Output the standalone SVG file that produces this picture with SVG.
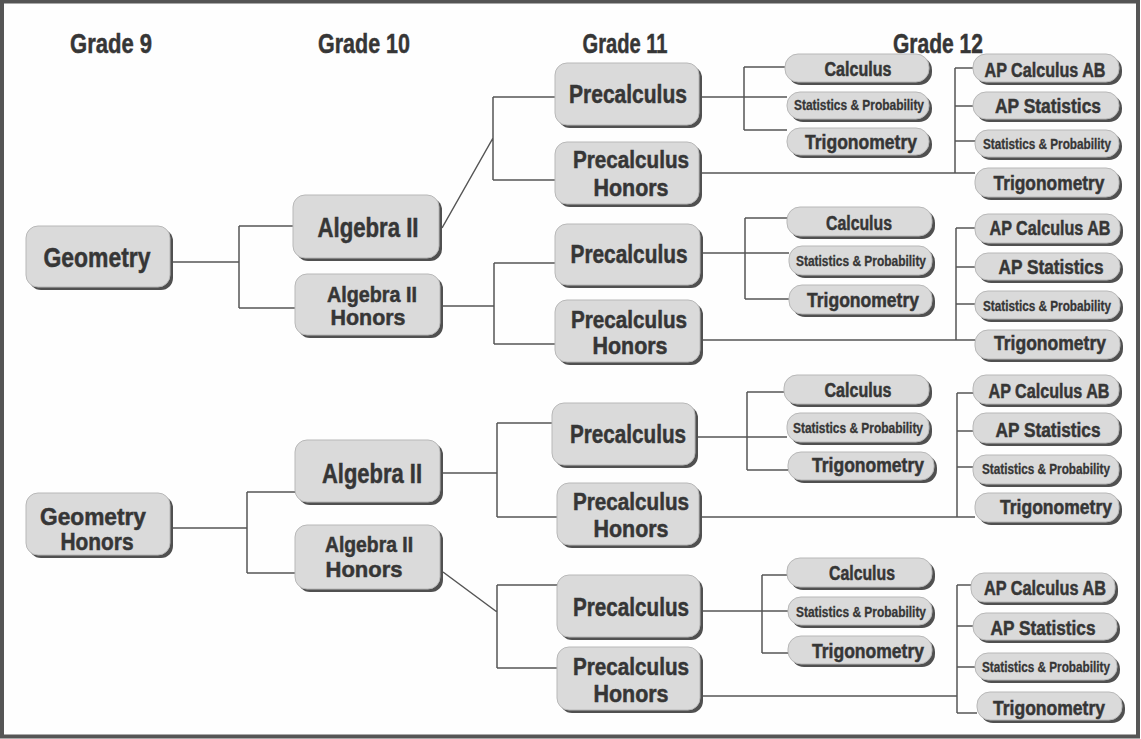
<svg xmlns="http://www.w3.org/2000/svg" width="1141" height="739" viewBox="0 0 1141 739">
<style>
.sh{fill:#505050}
.bx{fill:#dadada;stroke:#b8b8b8;stroke-width:1}
text{font-family:"Liberation Sans",Arial,sans-serif;font-weight:bold;fill:#363636;stroke:#363636;stroke-width:0.5;text-anchor:middle}
.h{font-size:28px}
.L{font-size:27px}
.M{font-size:26px}
.T{font-size:23px}
.A{font-size:22px}
.S{font-size:20px}
.X{font-size:14.5px;stroke-width:0.3}
.c{stroke:#555;stroke-width:1.5;fill:none}
</style>
<rect x="2" y="1.5" width="1136" height="735" fill="#fefefe" stroke="#555" stroke-width="4"/>
<g id="headers">
<text class="h" x="111" y="53" textLength="82" lengthAdjust="spacingAndGlyphs">Grade 9</text>
<text class="h" x="364" y="53" textLength="92" lengthAdjust="spacingAndGlyphs">Grade 10</text>
<text class="h" x="625" y="53" textLength="85" lengthAdjust="spacingAndGlyphs">Grade 11</text>
<text class="h" x="938" y="53" textLength="90" lengthAdjust="spacingAndGlyphs">Grade 12</text>
</g>
<g id="connectors" class="c">
<path d="M173,262 H239 M239,226 V308 M239,226 H293 M239,308 H295"/>
<path d="M442,228 L493,138 M493,97 V180 M493,97 H555 M493,180 H555"/>
<path d="M702,97 H787 M744,67 V130 M744,67 H785 M744,130 H787"/>
<path d="M702,173 H975 M955,68 V173 M955,68 H973 M955,106 H973 M955,141 H975"/>
<path d="M442,306 H494 M494,263 V344 M494,263 H555 M494,344 H555"/>
<path d="M703,253 H789 M745,218 V299 M745,218 H787 M745,299 H789"/>
<path d="M703,340 H975 M956,228 V340 M956,228 H975 M956,267 H975 M956,304 H975"/>
<path d="M173,528 H247 M247,492 V573 M247,492 H295 M247,573 H295"/>
<path d="M443,473 H497 M497,423 V517 M497,423 H552 M497,517 H557"/>
<path d="M698,437 H787 M747,392 V470 M747,392 H784 M747,470 H788"/>
<path d="M702,517 H975 M957,393 V517 M957,393 H973 M957,431 H973 M957,467 H973"/>
<path d="M443,572 L497,612 M497,585 V668 M497,585 H557 M497,668 H557"/>
<path d="M703,611 H788 M762,575 V653 M762,575 H787 M762,653 H788"/>
<path d="M703,696 H957 M957,585 V713 M957,585 H971 M957,626 H973 M957,667 H975 M957,713 H977"/>
</g>

<g id="geometry"><rect class="sh" x="29" y="229" width="144" height="61" rx="12"/><rect class="bx" x="26" y="226" width="144" height="61" rx="12"/><text class="L" x="97" y="267" textLength="107" lengthAdjust="spacingAndGlyphs">Geometry</text></g>
<g id="alg2_a"><rect class="sh" x="296" y="198" width="146" height="63" rx="12"/><rect class="bx" x="293" y="195" width="146" height="63" rx="12"/><text class="L" x="368" y="237" textLength="101" lengthAdjust="spacingAndGlyphs">Algebra II</text></g>
<g id="alg2h_a"><rect class="sh" x="298" y="277" width="145" height="61" rx="12"/><rect class="bx" x="295" y="274" width="145" height="61" rx="12"/><text class="A" x="372" y="302" textLength="90" lengthAdjust="spacingAndGlyphs">Algebra II</text><text class="A" x="368" y="325" textLength="75" lengthAdjust="spacingAndGlyphs">Honors</text></g>
<g id="pre_a"><rect class="sh" x="558" y="66" width="144" height="62" rx="12"/><rect class="bx" x="555" y="63" width="144" height="62" rx="12"/><text class="M" x="628" y="103" textLength="118" lengthAdjust="spacingAndGlyphs">Precalculus</text></g>
<g id="preh_a"><rect class="sh" x="558" y="145" width="144" height="62" rx="12"/><rect class="bx" x="555" y="142" width="144" height="62" rx="12"/><text class="T" x="631" y="168" textLength="116" lengthAdjust="spacingAndGlyphs">Precalculus</text><text class="T" x="631" y="196" textLength="75" lengthAdjust="spacingAndGlyphs">Honors</text></g>
<g id="calc_a"><rect class="sh" x="788" y="57" width="144" height="28" rx="13"/><rect class="bx" x="785" y="54" width="144" height="28" rx="13"/><text class="S" x="858" y="76" textLength="67" lengthAdjust="spacingAndGlyphs">Calculus</text></g>
<g id="sp_a"><rect class="sh" x="790" y="95" width="142" height="27" rx="13"/><rect class="bx" x="787" y="92" width="142" height="27" rx="13"/><text class="X" x="859" y="110" textLength="130" lengthAdjust="spacingAndGlyphs">Statistics &amp; Probability</text></g>
<g id="trig_a"><rect class="sh" x="790" y="131" width="142" height="27" rx="13"/><rect class="bx" x="787" y="128" width="142" height="27" rx="13"/><text class="S" x="861" y="149" textLength="112" lengthAdjust="spacingAndGlyphs">Trigonometry</text></g>
<g id="apcalc_a"><rect class="sh" x="976" y="57" width="146" height="28" rx="13"/><rect class="bx" x="973" y="54" width="146" height="28" rx="13"/><text class="S" x="1045" y="77" textLength="121" lengthAdjust="spacingAndGlyphs">AP Calculus AB</text></g>
<g id="apstat_a"><rect class="sh" x="976" y="95" width="146" height="27" rx="13"/><rect class="bx" x="973" y="92" width="146" height="27" rx="13"/><text class="S" x="1048" y="113" textLength="106" lengthAdjust="spacingAndGlyphs">AP Statistics</text></g>
<g id="sp12_a"><rect class="sh" x="978" y="133" width="144" height="27" rx="13"/><rect class="bx" x="975" y="130" width="144" height="27" rx="13"/><text class="X" x="1047" y="149" textLength="128" lengthAdjust="spacingAndGlyphs">Statistics &amp; Probability</text></g>
<g id="trig12_a"><rect class="sh" x="978" y="171" width="144" height="29" rx="13"/><rect class="bx" x="975" y="168" width="144" height="29" rx="13"/><text class="S" x="1049" y="190" textLength="111" lengthAdjust="spacingAndGlyphs">Trigonometry</text></g>

<g id="pre_b"><rect class="sh" x="558" y="227" width="145" height="61" rx="12"/><rect class="bx" x="555" y="224" width="145" height="61" rx="12"/><text class="M" x="629" y="263" textLength="117" lengthAdjust="spacingAndGlyphs">Precalculus</text></g>
<g id="preh_b"><rect class="sh" x="558" y="303" width="145" height="62" rx="12"/><rect class="bx" x="555" y="300" width="145" height="62" rx="12"/><text class="T" x="629" y="328" textLength="116" lengthAdjust="spacingAndGlyphs">Precalculus</text><text class="T" x="630" y="354" textLength="75" lengthAdjust="spacingAndGlyphs">Honors</text></g>
<g id="calc_b"><rect class="sh" x="790" y="210" width="145" height="29" rx="13"/><rect class="bx" x="787" y="207" width="145" height="29" rx="13"/><text class="S" x="859" y="230" textLength="66" lengthAdjust="spacingAndGlyphs">Calculus</text></g>
<g id="sp_b"><rect class="sh" x="792" y="249" width="143" height="29" rx="13"/><rect class="bx" x="789" y="246" width="143" height="29" rx="13"/><text class="X" x="861" y="266" textLength="130" lengthAdjust="spacingAndGlyphs">Statistics &amp; Probability</text></g>
<g id="trig_b"><rect class="sh" x="792" y="288" width="143" height="29" rx="13"/><rect class="bx" x="789" y="285" width="143" height="29" rx="13"/><text class="S" x="863" y="307" textLength="112" lengthAdjust="spacingAndGlyphs">Trigonometry</text></g>
<g id="apcalc_b"><rect class="sh" x="978" y="217" width="145" height="29" rx="13"/><rect class="bx" x="975" y="214" width="145" height="29" rx="13"/><text class="S" x="1050" y="235" textLength="121" lengthAdjust="spacingAndGlyphs">AP Calculus AB</text></g>
<g id="apstat_b"><rect class="sh" x="978" y="256" width="145" height="27" rx="13"/><rect class="bx" x="975" y="253" width="145" height="27" rx="13"/><text class="S" x="1051" y="274" textLength="105" lengthAdjust="spacingAndGlyphs">AP Statistics</text></g>
<g id="sp12_b"><rect class="sh" x="978" y="294" width="145" height="28" rx="13"/><rect class="bx" x="975" y="291" width="145" height="28" rx="13"/><text class="X" x="1047" y="311" textLength="128" lengthAdjust="spacingAndGlyphs">Statistics &amp; Probability</text></g>
<g id="trig12_b"><rect class="sh" x="978" y="333" width="145" height="29" rx="13"/><rect class="bx" x="975" y="330" width="145" height="29" rx="13"/><text class="S" x="1050" y="350" textLength="112" lengthAdjust="spacingAndGlyphs">Trigonometry</text></g>

<g id="geometry_honors"><rect class="sh" x="29" y="496" width="144" height="62" rx="12"/><rect class="bx" x="26" y="493" width="144" height="62" rx="12"/><text class="T" x="93" y="525" textLength="106" lengthAdjust="spacingAndGlyphs">Geometry</text><text class="T" x="97" y="550" textLength="73" lengthAdjust="spacingAndGlyphs">Honors</text></g>
<g id="alg2_b"><rect class="sh" x="298" y="443" width="145" height="62" rx="12"/><rect class="bx" x="295" y="440" width="145" height="62" rx="12"/><text class="L" x="372" y="483" textLength="100" lengthAdjust="spacingAndGlyphs">Algebra II</text></g>
<g id="alg2h_b"><rect class="sh" x="298" y="528" width="145" height="64" rx="12"/><rect class="bx" x="295" y="525" width="145" height="64" rx="12"/><text class="A" x="369" y="552" textLength="88" lengthAdjust="spacingAndGlyphs">Algebra II</text><text class="A" x="364" y="577" textLength="77" lengthAdjust="spacingAndGlyphs">Honors</text></g>
<g id="pre_c"><rect class="sh" x="555" y="406" width="143" height="62" rx="12"/><rect class="bx" x="552" y="403" width="143" height="62" rx="12"/><text class="M" x="628" y="443" textLength="116" lengthAdjust="spacingAndGlyphs">Precalculus</text></g>
<g id="preh_c"><rect class="sh" x="560" y="486" width="142" height="62" rx="12"/><rect class="bx" x="557" y="483" width="142" height="62" rx="12"/><text class="T" x="631" y="510" textLength="116" lengthAdjust="spacingAndGlyphs">Precalculus</text><text class="T" x="631" y="537" textLength="75" lengthAdjust="spacingAndGlyphs">Honors</text></g>
<g id="calc_c"><rect class="sh" x="787" y="378" width="145" height="29" rx="13"/><rect class="bx" x="784" y="375" width="145" height="29" rx="13"/><text class="S" x="858" y="397" textLength="67" lengthAdjust="spacingAndGlyphs">Calculus</text></g>
<g id="sp_c"><rect class="sh" x="790" y="416" width="142" height="29" rx="13"/><rect class="bx" x="787" y="413" width="142" height="29" rx="13"/><text class="X" x="858" y="433" textLength="130" lengthAdjust="spacingAndGlyphs">Statistics &amp; Probability</text></g>
<g id="trig_c"><rect class="sh" x="791" y="455" width="146" height="28" rx="13"/><rect class="bx" x="788" y="452" width="146" height="28" rx="13"/><text class="S" x="868" y="472" textLength="112" lengthAdjust="spacingAndGlyphs">Trigonometry</text></g>
<g id="apcalc_c"><rect class="sh" x="976" y="378" width="146" height="29" rx="13"/><rect class="bx" x="973" y="375" width="146" height="29" rx="13"/><text class="S" x="1049" y="398" textLength="121" lengthAdjust="spacingAndGlyphs">AP Calculus AB</text></g>
<g id="apstat_c"><rect class="sh" x="976" y="416" width="146" height="30" rx="13"/><rect class="bx" x="973" y="413" width="146" height="30" rx="13"/><text class="S" x="1048" y="437" textLength="105" lengthAdjust="spacingAndGlyphs">AP Statistics</text></g>
<g id="sp12_c"><rect class="sh" x="976" y="458" width="146" height="29" rx="13"/><rect class="bx" x="973" y="455" width="146" height="29" rx="13"/><text class="X" x="1046" y="474" textLength="128" lengthAdjust="spacingAndGlyphs">Statistics &amp; Probability</text></g>
<g id="trig12_c"><rect class="sh" x="978" y="496" width="144" height="29" rx="13"/><rect class="bx" x="975" y="493" width="144" height="29" rx="13"/><text class="S" x="1056" y="514" textLength="112" lengthAdjust="spacingAndGlyphs">Trigonometry</text></g>

<g id="pre_d"><rect class="sh" x="560" y="578" width="143" height="62" rx="12"/><rect class="bx" x="557" y="575" width="143" height="62" rx="12"/><text class="M" x="631" y="616" textLength="116" lengthAdjust="spacingAndGlyphs">Precalculus</text></g>
<g id="preh_d"><rect class="sh" x="560" y="650" width="143" height="63" rx="12"/><rect class="bx" x="557" y="647" width="143" height="63" rx="12"/><text class="T" x="631" y="675" textLength="116" lengthAdjust="spacingAndGlyphs">Precalculus</text><text class="T" x="631" y="702" textLength="75" lengthAdjust="spacingAndGlyphs">Honors</text></g>
<g id="calc_d"><rect class="sh" x="790" y="561" width="145" height="29" rx="13"/><rect class="bx" x="787" y="558" width="145" height="29" rx="13"/><text class="S" x="862" y="580" textLength="66" lengthAdjust="spacingAndGlyphs">Calculus</text></g>
<g id="sp_d"><rect class="sh" x="791" y="600" width="144" height="28" rx="13"/><rect class="bx" x="788" y="597" width="144" height="28" rx="13"/><text class="X" x="861" y="617" textLength="130" lengthAdjust="spacingAndGlyphs">Statistics &amp; Probability</text></g>
<g id="trig_d"><rect class="sh" x="791" y="639" width="144" height="28" rx="13"/><rect class="bx" x="788" y="636" width="144" height="28" rx="13"/><text class="S" x="868" y="658" textLength="112" lengthAdjust="spacingAndGlyphs">Trigonometry</text></g>
<g id="apcalc_d"><rect class="sh" x="974" y="576" width="144" height="29" rx="13"/><rect class="bx" x="971" y="573" width="144" height="29" rx="13"/><text class="S" x="1045" y="595" textLength="122" lengthAdjust="spacingAndGlyphs">AP Calculus AB</text></g>
<g id="apstat_d"><rect class="sh" x="976" y="616" width="144" height="27" rx="13"/><rect class="bx" x="973" y="613" width="144" height="27" rx="13"/><text class="S" x="1043" y="635" textLength="105" lengthAdjust="spacingAndGlyphs">AP Statistics</text></g>
<g id="sp12_d"><rect class="sh" x="978" y="656" width="142" height="27" rx="13"/><rect class="bx" x="975" y="653" width="142" height="27" rx="13"/><text class="X" x="1046" y="672" textLength="128" lengthAdjust="spacingAndGlyphs">Statistics &amp; Probability</text></g>
<g id="trig12_d"><rect class="sh" x="980" y="695" width="145" height="28" rx="13"/><rect class="bx" x="977" y="692" width="145" height="28" rx="13"/><text class="S" x="1049" y="715" textLength="112" lengthAdjust="spacingAndGlyphs">Trigonometry</text></g>
</svg>
